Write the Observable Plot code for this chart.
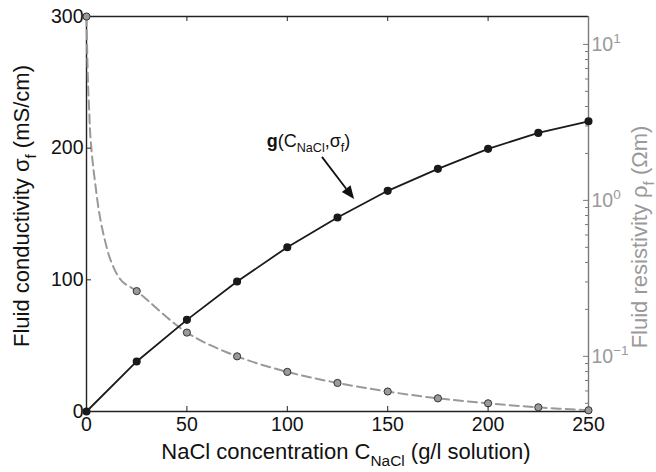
<!DOCTYPE html>
<html><head><meta charset="utf-8">
<script src="https://cdn.jsdelivr.net/npm/d3@7"></script>
<script src="https://cdn.jsdelivr.net/npm/@observablehq/plot@0.6"></script>
<style>
body{margin:0;background:#fff;}
#chart{position:relative;width:656px;height:472px;}
#chart svg{position:absolute;left:0;top:0;overflow:visible;}
</style></head><body><div id="chart"></div>
<script>
// ---- data ----
const concentration = [0, 25, 50, 75, 100, 125, 150, 175, 200, 225, 250];          // g/l
const conductivity  = [0, 38, 69.6, 98.7, 124.8, 147.3, 167.6, 184.3, 199.5, 211.6, 220.4]; // mS/cm
const resistivity   = [15.1, 0.262, 0.142, 0.100, 0.0795, 0.0675, 0.0595, 0.0538, 0.0500, 0.0471, 0.0451]; // Ωm
// extra samples of the dashed resistivity curve near C = 0
const curveConcentration = [0, 0.75, 1.34, 1.84, 2.99, 4.48, 6.32, 8.96, 12.45, 17.5];
const curveResistivity   = [15.1, 5.61, 3.77, 2.68, 1.80, 1.245, 0.836, 0.569, 0.400, 0.305];
const xTicks = [0, 50, 100, 150, 200, 250];
const yTicks = [0, 100, 200, 300];
const rhoTicks = [0.1, 1, 10];
const rhoMinorTicks = [0.05,0.06,0.07,0.08,0.09,0.2,0.3,0.4,0.5,0.6,0.7,0.8,0.9,2,3,4,5,6,7,8,9];
const annotation = {label: "g", cText: 90, sText: 200, c1: 117.5, s1: 193, c2: 133.5, s2: 161};

const W = 656, H = 472, mL = 86, mR = 68, mT = 16, mB = 61;
const innerW = W - mL - mR, innerH = H - mT - mB;
const font = "'Liberation Sans', Arial, Helvetica, sans-serif";

const rhoPoints = concentration.map((c, i) => ({c, r: resistivity[i]}));
const rhoCurve = curveConcentration.map((c, i) => ({c, r: curveResistivity[i]}))
  .concat(rhoPoints.slice(1));
const sigmaPoints = concentration.map((c, i) => ({c, s: conductivity[i]}));

const common = {width: W, height: H, marginLeft: mL, marginRight: mR, marginTop: mT, marginBottom: mB,
  style: {background: "transparent", fontFamily: font, fontSize: "19.5px", overflow: "visible"}};

// bottom layer: log resistivity axis, frame
const logPlot = Plot.plot({...common,
  x: {domain: [0, 250], axis: null},
  y: {type: "log", domain: [0.0443, 15.1], axis: null},
  marks: [
    Plot.ruleX([0], {stroke: "#222", strokeWidth: 1.4}),
    Plot.ruleY([15.1], {stroke: "#222", strokeWidth: 1.4}),
    Plot.ruleY([0.0443], {stroke: "#222", strokeWidth: 1.4}),
    Plot.ruleX([250], {stroke: "#7a7a7a", strokeWidth: 1.4}),
    Plot.tickY(rhoTicks, {y: d => d, stroke: "#7a7a7a", insetLeft: innerW - 5}),
    Plot.tickY(rhoMinorTicks, {y: d => d, stroke: "#7a7a7a", insetLeft: innerW - 3}),
    Plot.axisY(rhoTicks, {anchor: "right", tickSize: 0, tickPadding: 3, color: "#9a9a9a",
      tickFormat: d => "10^" + Math.round(Math.log10(d)), label: null}),
    Plot.line(rhoCurve, {x: "c", y: "r", stroke: "#999", strokeWidth: 2, strokeDasharray: "9,5", curve: "catmull-rom"}),
    Plot.dot(rhoPoints, {x: "c", y: "r", r: 3.6, fill: "#9a9a9a", stroke: "#333", strokeWidth: 1})
  ]
});

// top layer: linear conductivity axis
const linPlot = Plot.plot({...common,
  x: {domain: [0, 250], axis: null},
  y: {domain: [0, 300], axis: null},
  marks: [
    Plot.tickX(xTicks.slice(1, -1), {x: d => d, stroke: "#222", insetTop: innerH - 5}),
    Plot.tickX(xTicks.slice(1, -1), {x: d => d, stroke: "#222", insetBottom: innerH - 5}),
    Plot.tickY(yTicks.slice(1, -1), {y: d => d, stroke: "#222", insetRight: innerW - 5}),
    Plot.axisX(xTicks, {anchor: "bottom", tickSize: 0, tickPadding: 6, color: "#111", label: null}),
    Plot.axisY(yTicks, {anchor: "left", tickSize: 0, tickPadding: 3, color: "#111", label: null}),
    Plot.line(sigmaPoints, {x: "c", y: "s", stroke: "#1a1a1a", strokeWidth: 1.8}),
    Plot.dot(sigmaPoints, {x: "c", y: "s", r: 3.3, fill: "#1a1a1a", stroke: "#1a1a1a"})
  ]
});

const chart = document.getElementById("chart");
chart.appendChild(logPlot);
chart.appendChild(linPlot);

// superscript exponents on log tick labels
d3.select(logPlot).selectAll("text").each(function() {
  const t = this.textContent;
  const m = /^10\^(-?\d+)$/.exec(t);
  if (!m) return;
  const sel = d3.select(this);
  sel.text("10");
  sel.append("tspan").attr("dy", "-0.55em").attr("font-size", "13.5px").text(m[1].replace("-", "\u2212"));
});

const svg = d3.select(linPlot);
const fs = 22;
function rich(parts, attrs, size) {
  const t = svg.append("text").attr("font-family", font).attr("font-size", size).attr("text-anchor", "start");
  for (const [k, v] of Object.entries(attrs)) t.attr(k, v);
  for (const p of parts) {
    const sp = t.append("tspan").text(p.t);
    if (p.sub) sp.attr("font-size", size * 0.7).attr("dy", size * 0.3);
    if (p.back) sp.attr("dy", -size * 0.3);
    if (p.bold) sp.attr("font-weight", "bold");
  }
  return t;
}
// axis titles
rich([{t: "NaCl concentration C"}, {t: "NaCl", sub: true}, {t: " (g/l solution)", back: true}],
  {"text-anchor": "middle", x: 346, y: 459, fill: "#111"}, fs);
rich([{t: "Fluid conductivity \u03c3"}, {t: "f", sub: true}, {t: " (mS/cm)", back: true}],
  {"text-anchor": "middle", transform: "translate(29,206) rotate(-90)", fill: "#111"}, fs);
rich([{t: "Fluid resistivity \u03c1"}, {t: "f", sub: true}, {t: " (\u03a9m)", back: true}],
  {"text-anchor": "middle", transform: "translate(647,237) rotate(-90)", fill: "#9a9a9a"}, fs);

// annotation
const sx = linPlot.scale("x"), sy = linPlot.scale("y");
rich([{t: annotation.label, bold: true}, {t: "(C"}, {t: "NaCl", sub: true}, {t: ",\u03c3", back: true}, {t: "f", sub: true}, {t: ")", back: true}],
  {x: sx.apply(annotation.cText), y: sy.apply(annotation.sText) - 1, fill: "#111"}, 18);
const x1 = sx.apply(annotation.c1), y1 = sy.apply(annotation.s1);
const x2 = sx.apply(annotation.c2), y2 = sy.apply(annotation.s2);
const ang = Math.atan2(y2 - y1, x2 - x1), L = 13, Wd = 5.5;
const bx = x2 - L * Math.cos(ang), by = y2 - L * Math.sin(ang);
svg.append("line").attr("x1", x1).attr("y1", y1).attr("x2", bx).attr("y2", by)
  .attr("stroke", "#111").attr("stroke-width", 1.8);
svg.append("path").attr("fill", "#111").attr("d",
  `M${x2},${y2}L${bx - Wd * Math.sin(ang)},${by + Wd * Math.cos(ang)}L${bx + Wd * Math.sin(ang)},${by - Wd * Math.cos(ang)}Z`);
</script></body></html>
